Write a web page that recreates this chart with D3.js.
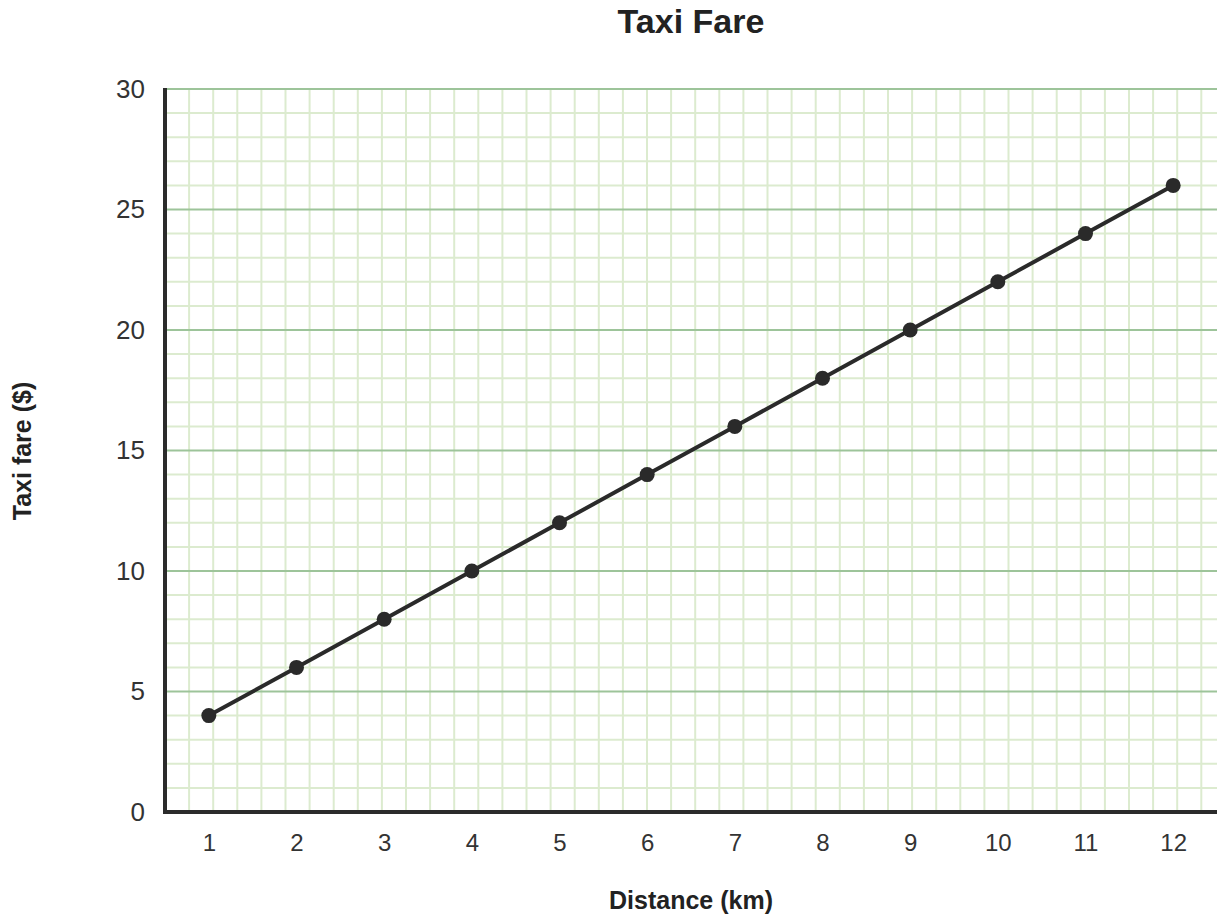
<!DOCTYPE html>
<html><head><meta charset="utf-8">
<script src="https://cdn.jsdelivr.net/npm/d3@7"></script>
<style>body{margin:0;background:#fff;}svg{display:block;font-family:"Liberation Sans",Arial,sans-serif;}</style>
</head><body>
<svg id="c" width="1225" height="922"></svg>
<script>
const distance = [1,2,3,4,5,6,7,8,9,10,11,12];
const fare = [4,6,8,10,12,14,16,18,20,22,24,26];
const yTicks = [0,5,10,15,20,25,30];

const svg = d3.select("#c");
const L = 165, R = 1217, T = 89, B = 812;
const x = d3.scaleLinear().domain([0.5, 12.5]).range([L, R]);
const y = d3.scaleLinear().domain([0, 30]).range([B, T]);
const unitPx = (B - T) / 30;

// minor grid
const g = svg.append("g");
g.selectAll("line.hm").data(d3.range(1, 30).filter(v => v % 5 !== 0)).join("line")
  .attr("x1", L).attr("x2", R).attr("y1", d => y(d)).attr("y2", d => y(d))
  .attr("stroke", "#dcebcf").attr("stroke-width", 2);
const nV = Math.floor((R - L) / unitPx);
g.selectAll("line.vm").data(d3.range(1, nV + 1)).join("line")
  .attr("x1", d => L + d * unitPx).attr("x2", d => L + d * unitPx).attr("y1", T).attr("y2", B)
  .attr("stroke", "#dcebcf").attr("stroke-width", 2);
// major grid
g.selectAll("line.hM").data(yTicks.filter(v => v > 0)).join("line")
  .attr("x1", L).attr("x2", R).attr("y1", d => y(d)).attr("y2", d => y(d))
  .attr("stroke", "#9dc49a").attr("stroke-width", 2);

// axes
const yAxis = d3.axisLeft(y).tickValues(yTicks).tickSize(0).tickPadding(20);
const ya = svg.append("g").attr("transform", `translate(${L},0)`).call(yAxis);
ya.select(".domain").remove();
ya.selectAll("text").attr("font-size", 26).attr("fill", "#333").attr("font-family", "Liberation Sans, Arial, sans-serif");

const xAxis = d3.axisBottom(x).tickValues(distance).tickSize(0).tickPadding(22);
const xa = svg.append("g").attr("transform", `translate(0,${B})`).call(xAxis);
xa.select(".domain").remove();
xa.selectAll("text").attr("font-size", 24).attr("fill", "#333").attr("font-family", "Liberation Sans, Arial, sans-serif");

svg.append("line").attr("x1", L).attr("x2", L).attr("y1", T - 1).attr("y2", B + 2)
  .attr("stroke", "#2b2b2b").attr("stroke-width", 4);
svg.append("line").attr("x1", L - 2).attr("x2", R).attr("y1", B).attr("y2", B)
  .attr("stroke", "#2b2b2b").attr("stroke-width", 4);

// line & points
const data = distance.map((d, i) => ({d, f: fare[i]}));
svg.append("path").datum(data)
  .attr("d", d3.line().x(p => x(p.d)).y(p => y(p.f)))
  .attr("fill", "none").attr("stroke", "#2a2a2a").attr("stroke-width", 4);
svg.selectAll("circle").data(data).join("circle")
  .attr("cx", p => x(p.d)).attr("cy", p => y(p.f)).attr("r", 7.5).attr("fill", "#2a2a2a");

// titles
svg.append("text").attr("x", 691).attr("y", 33).attr("text-anchor", "middle")
  .attr("font-size", 34).attr("font-weight", "bold").attr("fill", "#222").text("Taxi Fare");
svg.append("text").attr("x", 691).attr("y", 909).attr("text-anchor", "middle")
  .attr("font-size", 25).attr("font-weight", "bold").attr("fill", "#222").text("Distance (km)");
svg.append("text").attr("transform", "translate(31,451) rotate(-90)").attr("text-anchor", "middle")
  .attr("font-size", 25).attr("font-weight", "bold").attr("fill", "#222").text("Taxi fare ($)");
</script>
</body></html>
